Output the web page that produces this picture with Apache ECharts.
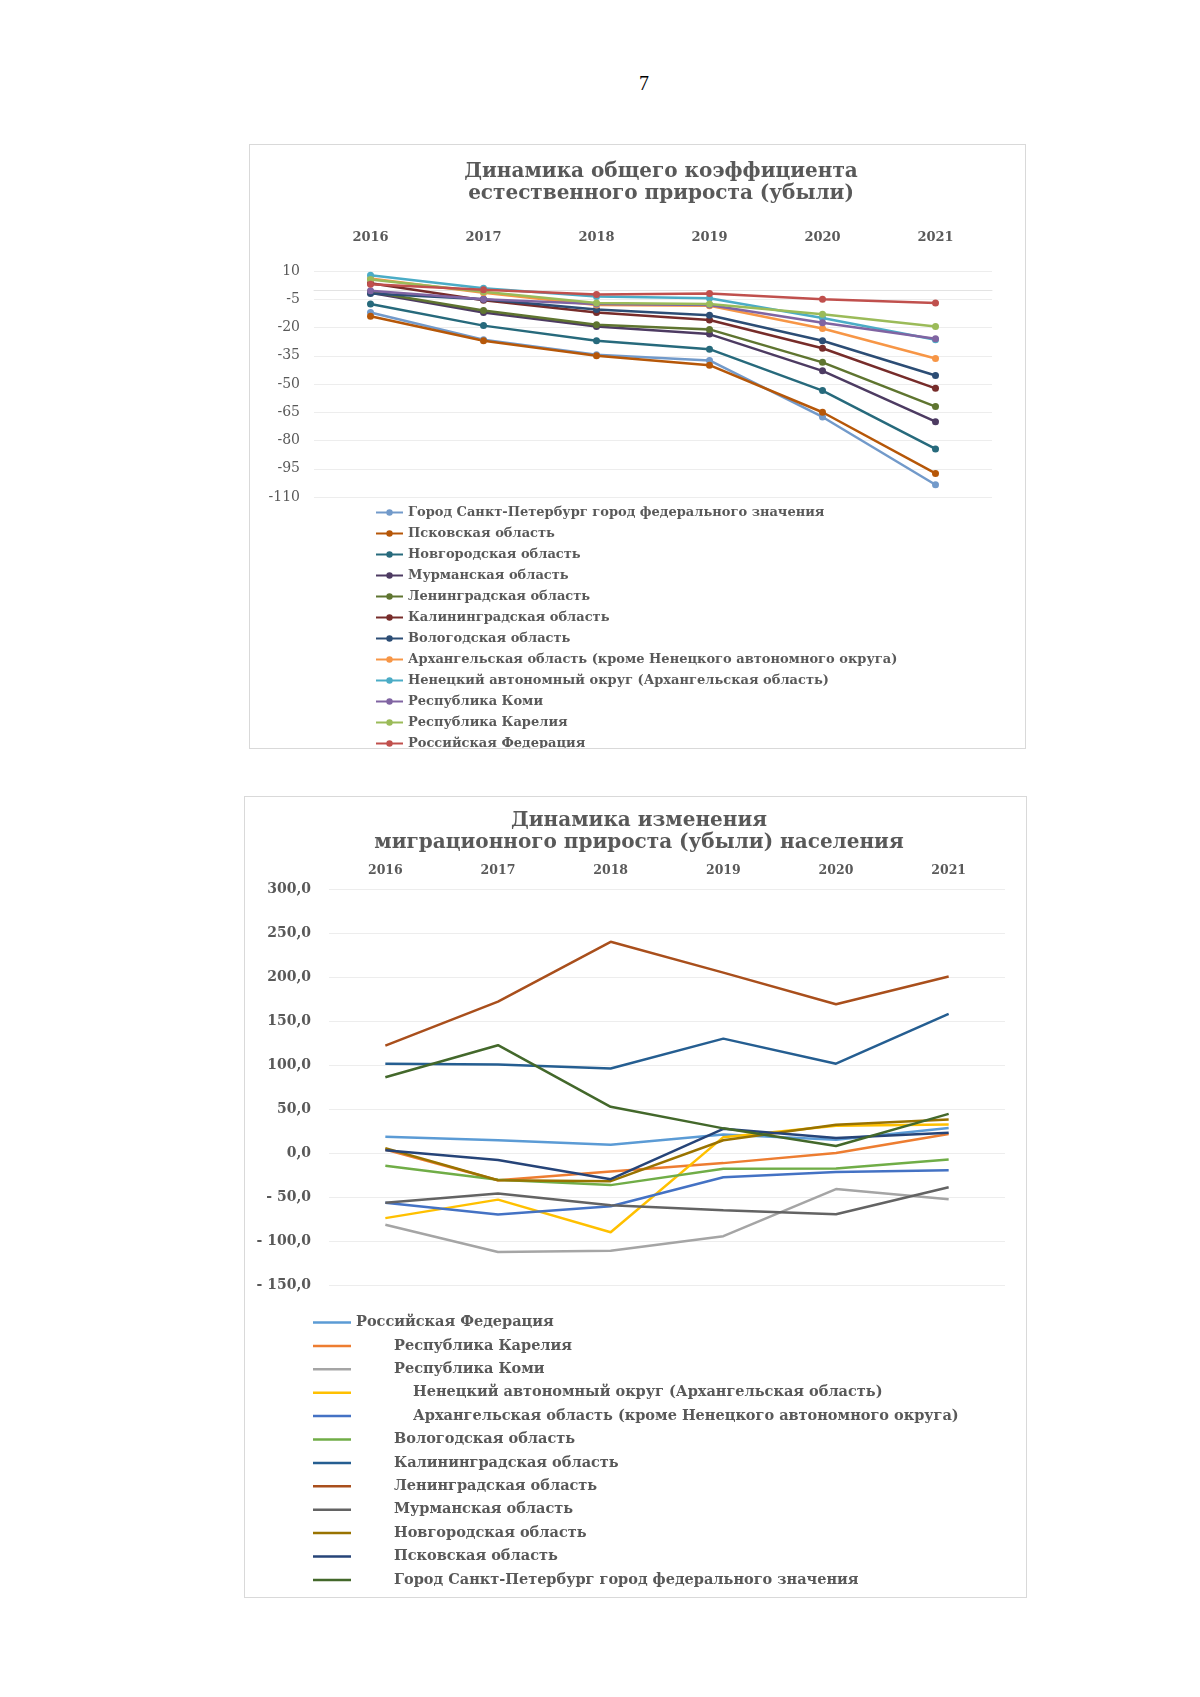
<!DOCTYPE html>
<html>
<head>
<meta charset="utf-8">
<script src="https://cdn.jsdelivr.net/npm/echarts@6/dist/echarts.min.js"></script>
<style>
  html, body { margin: 0; padding: 0; background: #fff; }
  body { width: 1200px; height: 1697px; position: relative; }
  #pg { position: absolute; left: 602px; width: 84px; top: 72px; text-align: center; font: 20px 'Liberation Serif', serif; color: #000; }
  .box { position: absolute; border: 1px solid #D9D9D9; box-sizing: border-box; }
  #c1 { left: 249px; top: 144px; width: 777px; height: 605px; }
  #c2 { left: 244px; top: 796px; width: 783px; height: 802px; }
</style>
</head>
<body>
<div id="pg">7</div>
<div id="c1" class="box"></div>
<div id="c2" class="box"></div>
<script>
// ---------- Chart 1: natural growth ----------
const years = ['2016', '2017', '2018', '2019', '2020', '2021'];

const n_spb        = [-12.0, -26.5, -34.5, -37.5, -67.5, -103.5];
const n_pskov      = [-14.0, -27.0, -35.0, -40.0, -65.0, -97.5];
const n_novgorod   = [-7.5, -19.0, -27.0, -31.5, -53.5, -84.5];
const n_murmansk   = [-1.5, -12.0, -19.5, -23.5, -43.0, -70.0];
const n_leningrad  = [-1.0, -11.0, -18.5, -21.0, -38.5, -62.0];
const n_kaliningr  = [3.5, -5.5, -12.0, -16.0, -31.0, -52.3];
const n_vologda    = [-2.0, -5.0, -10.5, -13.5, -27.0, -45.5];
const n_arkh       = [6.0, -1.5, -8.0, -8.5, -20.5, -36.5];
const n_nenets     = [7.7, 0.8, -3.5, -4.5, -15.0, -26.5];
const n_komi       = [-0.5, -5.0, -7.5, -8.0, -17.5, -26.0];
const n_karelia    = [5.5, -1.0, -7.0, -7.5, -13.0, -19.5];
const n_rf         = [3.0, 0.0, -2.5, -2.0, -5.0, -7.0];

const names1 = [
  'Город Санкт-Петербург город федерального значения',
  'Псковская область',
  'Новгородская область',
  'Мурманская область',
  'Ленинградская область',
  'Калининградская область',
  'Вологодская область',
  'Архангельская область (кроме Ненецкого автономного округа)',
  'Ненецкий автономный округ (Архангельская область)',
  'Республика Коми',
  'Республика Карелия',
  'Российская Федерация'
];
const data1 = [n_spb, n_pskov, n_novgorod, n_murmansk, n_leningrad, n_kaliningr,
               n_vologda, n_arkh, n_nenets, n_komi, n_karelia, n_rf];
const colors1 = ['#729ACA', '#B65708', '#276A7C', '#4D3B62', '#5F7530', '#772C2A',
                 '#2C4D75', '#F79646', '#4BACC6', '#8064A2', '#9BBB59', '#C0504D'];

const serif = 'DejaVu Serif';
const grey = '#595959';

const chart1 = echarts.init(document.getElementById('c1'));
chart1.setOption({
  animation: false,
  color: colors1,
  title: {
    text: 'Динамика общего коэффициента\nестественного прироста (убыли)',
    left: 406, top: 11, textAlign: 'center',
    textStyle: { fontFamily: serif, fontWeight: 'bold', fontSize: 20, color: grey, lineHeight: 22 }
  },
  grid: { left: 64, right: 33, top: 126, height: 226 },
  xAxis: {
    type: 'category', data: years, position: 'top', boundaryGap: true, offset: 15,
    axisLine: { show: true, lineStyle: { color: '#E3E3E3', width: 1 } },
    axisTick: { show: false },
    axisLabel: { fontFamily: serif, fontWeight: 'bold', fontSize: 13, color: grey, margin: 12 }
  },
  yAxis: {
    type: 'value', min: -110, max: 10, interval: 15,
    axisLine: { show: false }, axisTick: { show: false },
    splitLine: { lineStyle: { color: '#EDEDED', width: 1 } },
    axisLabel: { fontFamily: serif, fontSize: 14, color: grey, margin: 14 }
  },
  legend: {
    orient: 'vertical', left: 125, top: 361, height: 260, padding: 0,
    itemWidth: 27, itemHeight: 8, itemGap: 8,
    data: names1,
    textStyle: { fontFamily: serif, fontWeight: 'bold', fontSize: 13, color: grey }
  },
  series: names1.map((n, i) => ({
    name: n, type: 'line', data: data1[i],
    symbol: 'circle', symbolSize: 7,
    lineStyle: { width: 2.5 },
    itemStyle: { color: colors1[i] }
  }))
});

// ---------- Chart 2: migration growth ----------
const m_rf        = [18.5, 14.5, 9.5, 21.0, 15.0, 28.5];
const m_karelia   = [4.0, -31.0, -21.0, -11.5, 0.0, 21.5];
const m_komi      = [-81.5, -112.5, -111.0, -94.5, -41.0, -52.5];
const m_nenets    = [-74.0, -53.0, -90.0, 18.0, 31.0, 32.5];
const m_arkh      = [-56.5, -70.0, -60.5, -27.5, -21.5, -19.5];
const m_vologda   = [-14.5, -30.5, -36.5, -18.0, -17.5, -7.5];
const m_kaliningr = [101.5, 100.5, 96.0, 130.0, 101.5, 158.0];
const m_leningrad = [122.0, 172.0, 240.0, 205.0, 169.0, 200.5];
const m_murmansk  = [-56.5, -46.0, -59.5, -65.0, -69.5, -39.0];
const m_novgorod  = [5.5, -31.0, -32.0, 14.5, 32.0, 38.0];
const m_pskov     = [3.0, -8.0, -29.8, 27.5, 17.0, 23.0];
const m_spb       = [86.0, 122.5, 52.5, 28.0, 8.0, 44.5];

const names2 = [
  'Российская Федерация',
  'Республика Карелия',
  'Республика Коми',
  'Ненецкий автономный округ (Архангельская область)',
  'Архангельская область (кроме Ненецкого автономного округа)',
  'Вологодская область',
  'Калининградская область',
  'Ленинградская область',
  'Мурманская область',
  'Новгородская область',
  'Псковская область',
  'Город Санкт-Петербург город федерального значения'
];
const data2 = [m_rf, m_karelia, m_komi, m_nenets, m_arkh, m_vologda,
               m_kaliningr, m_leningrad, m_murmansk, m_novgorod, m_pskov, m_spb];
const colors2 = ['#5B9BD5', '#ED7D31', '#A5A5A5', '#FFC000', '#4472C4', '#70AD47',
                 '#255E91', '#A94F1C', '#636363', '#997300', '#264478', '#43682B'];
const indent2 = [0, 1, 1, 2, 2, 1, 1, 1, 1, 1, 1, 1];

function fmt2(v) {
  const s = Math.abs(v).toFixed(1).replace('.', ',');
  return v < 0 ? '- ' + s : s;
}

const chart2 = echarts.init(document.getElementById('c2'));
chart2.setOption({
  animation: false,
  color: colors2,
  title: {
    text: 'Динамика изменения\nмиграционного прироста (убыли) населения',
    left: 389, top: 8, textAlign: 'center',
    textStyle: { fontFamily: serif, fontWeight: 'bold', fontSize: 20, color: grey, lineHeight: 22 }
  },
  grid: { left: 84, right: 21, top: 92, height: 396 },
  xAxis: {
    type: 'category', data: years, position: 'top', boundaryGap: true,
    axisLine: { show: false }, axisTick: { show: false },
    axisLabel: { fontFamily: serif, fontWeight: 'bold', fontSize: 12.5, color: grey, margin: 12 }
  },
  yAxis: {
    type: 'value', min: -150, max: 300, interval: 50,
    axisLine: { show: false }, axisTick: { show: false },
    splitLine: { lineStyle: { color: '#EDEDED', width: 1 } },
    axisLabel: { fontFamily: serif, fontWeight: 'bold', fontSize: 14, color: grey, margin: 18, formatter: fmt2 }
  },
  legend: {
    orient: 'vertical', left: 68, top: 518, height: 320, padding: 0,
    icon: 'rect', itemWidth: 38, itemHeight: 2.5, itemGap: 8.4,
    data: names2,
    formatter: function (name) {
      const k = indent2[names2.indexOf(name)];
      return k === 0 ? name : '{p' + k + '| }' + name;
    },
    textStyle: {
      fontFamily: serif, fontWeight: 'bold', fontSize: 14.5, color: grey,
      rich: { p1: { width: 38 }, p2: { width: 57 } }
    }
  },
  series: names2.map((n, i) => ({
    name: n, type: 'line', data: data2[i],
    symbol: 'none', lineStyle: { width: 2.5, color: colors2[i] },
    itemStyle: { color: colors2[i] }
  }))
});
</script>
</body>
</html>
